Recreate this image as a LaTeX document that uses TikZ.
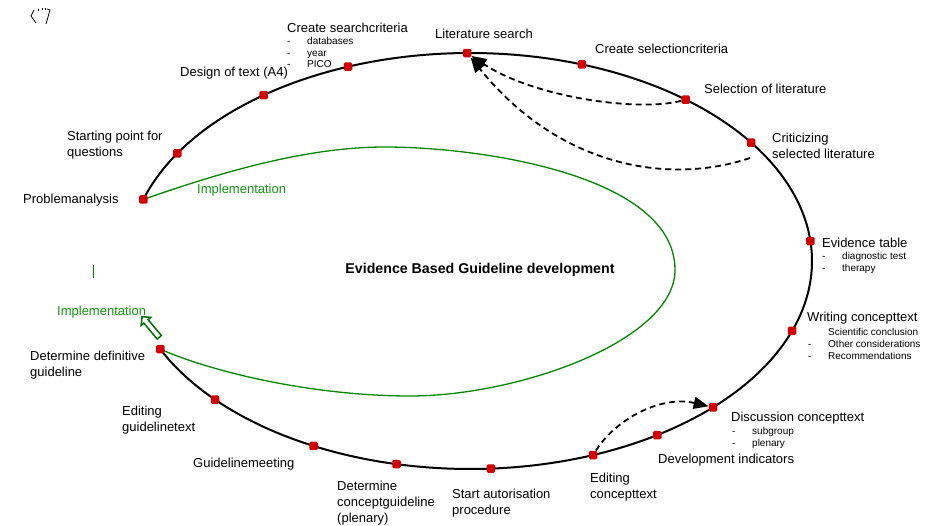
\documentclass[tikz,border=0pt]{standalone}
\usepackage{fontspec}
\setmainfont{Liberation Sans}
\usetikzlibrary{arrows.meta,shapes.arrows}
\definecolor{dotred}{RGB}{210,0,0}
\definecolor{lgreen}{RGB}{0,135,0}
\definecolor{tgreen}{RGB}{20,150,20}
\definecolor{dgreen}{RGB}{0,110,0}
\tikzset{
 dot/.style={fill=dotred, draw=none, rectangle, rounded corners=1.5pt, minimum size=8.5pt, inner sep=0pt},
 lbl/.style={anchor=west, inner sep=0pt, align=left, font=\fontsize{13}{16}\selectfont},
 sublbl/.style={anchor=west, inner sep=0pt, align=left, font=\fontsize{10}{11.7}\selectfont},
 glbl/.style={anchor=west, inner sep=0pt, text=tgreen, font=\fontsize{13}{16}\selectfont},
 loopline/.style={line width=2pt},
 greenline/.style={draw=lgreen, line width=1.3pt},
 dasharrow/.style={line width=1.8pt, dash pattern=on 6pt off 4pt, -{Triangle[length=15pt,width=12pt]}},
}
\newcommand{\dsh}{\makebox[20pt][l]{-}}
\newcommand{\nodsh}{\makebox[20pt][l]{}}
\newcommand{\loopcoord}[2]{\coordinate (#1) at ({470+342*cos(#2)},{261+208*sin(#2)});}
\begin{document}
\begin{tikzpicture}[x=1pt,y=-1pt]
\useasboundingbox (0,0) rectangle (944,526);
% positions on the loop
\loopcoord{cpa}{197.2}
\loopcoord{csp}{211.2}
\loopcoord{cdt}{232.9}
\loopcoord{csc}{249.1}
\loopcoord{clit}{269.5}
\loopcoord{cselc}{289.1}
\loopcoord{csel}{309.1}
\loopcoord{ccrit}{325.3}
\loopcoord{cev}{354.5}
\loopcoord{cwc}{19.6}
\loopcoord{cdisc}{44.7}
\loopcoord{cdev}{56.8}
\loopcoord{cedc}{68.9}
\loopcoord{cstart}{86.5}
\loopcoord{cdet}{102.4}
\loopcoord{cgm}{117.2}
\loopcoord{cegt}{138.2}
\loopcoord{cddg}{154.9}
% black loop (open between Problemanalysis and Determine definitive guideline)
\draw[loopline] plot[domain=197.2:514.9, samples=240, smooth] ({470+342*cos(\x)},{261+208*sin(\x)});
% green loop
\draw[greenline] (cpa) .. controls (227,170) and (310,147) .. (385,147)
  .. controls (480,147) and (675,175) .. (675,270)
  .. controls (675,340) and (520,396) .. (410,396)
  .. controls (320,396) and (220,375) .. (cddg);
% dots
\node[dot] (pa) at (cpa) {};
\node[dot] (sp) at (csp) {};
\node[dot] (dt) at (cdt) {};
\node[dot] (sc) at (csc) {};
\node[dot] (lit) at (clit) {};
\node[dot] (selc) at (cselc) {};
\node[dot] (sel) at (csel) {};
\node[dot] (crit) at (ccrit) {};
\node[dot] (ev) at (cev) {};
\node[dot] (wc) at (cwc) {};
\node[dot] (disc) at (cdisc) {};
\node[dot] (dev) at (cdev) {};
\node[dot] (edc) at (cedc) {};
\node[dot] (start) at (cstart) {};
\node[dot] (det) at (cdet) {};
\node[dot] (gm) at (cgm) {};
\node[dot] (egt) at (cegt) {};
\node[dot] (ddg) at (cddg) {};
% dashed arrows
\coordinate (critout) at (750,158);
\draw[dasharrow] (sel) .. controls (640,112) and (535,98) .. (lit);
\draw[dasharrow] (critout) .. controls (670,185) and (560,168) .. (lit);
\draw[dasharrow] (edc) .. controls (615,420) and (660,395) .. (disc);
% hollow green arrow
\node[single arrow, draw=dgreen, fill=white, line width=1.5pt, minimum height=27pt, inner sep=2pt, single arrow head extend=3.5pt, rotate=130] (harrow) at (151.5,328) {};
% green mark
\draw[lgreen, line width=1pt] (93,265) -- (93,278);
% top-left glyph
\draw[line width=0.8pt] (34,10) -- (31,16) -- (36,23);
\draw[line width=0.8pt] (38,11) -- (38,9) (42,10) -- (42,8) (45,10) -- (45,8);
\draw[line width=0.8pt] (47,9) -- (50,10) -- (46,24);
% labels
\node[lbl] (tpa) at (23,200) {Problemanalysis};
\node[lbl] (tsp) at (67,145) {Starting point for\\questions};
\node[lbl] (tdt) at (180,73) {Design of text (A4)};
\node[lbl] (tsc) at (287,28) {Create searchcriteria};
\node[sublbl] (tsc2) at (287,52.5) {\dsh databases\\\dsh year\\\dsh PICO};
\node[lbl] (tlit) at (435,34) {Literature search};
\node[lbl] (tselc) at (595,49) {Create selectioncriteria};
\node[lbl] (tsel) at (704,89) {Selection of literature};
\node[lbl] (tcrit) at (772,145.5) {Criticizing\\selected literature};
\node[lbl] (tev) at (822,243) {Evidence table};
\node[sublbl] (tev2) at (822,263) {\dsh diagnostic test\\\dsh therapy};
\node[lbl] (twc) at (807,318) {Writing concepttext};
\node[sublbl] (twc2) at (808,344) {\nodsh Scientific conclusion\\\dsh Other considerations\\\dsh Recommendations};
\node[lbl] (tdisc) at (731,418) {Discussion concepttext};
\node[sublbl] (tdisc2) at (732,438) {\dsh subgroup\\\dsh plenary};
\node[lbl] (tdev) at (658,460) {Development indicators};
\node[lbl] (tedc) at (590,487) {Editing\\concepttext};
\node[lbl] (tstart) at (452,503.5) {Start autorisation\\procedure};
\node[lbl] (tdet) at (337,503) {Determine\\conceptguideline\\(plenary)};
\node[lbl] (tgm) at (193,464) {Guidelinemeeting};
\node[lbl] (tegt) at (122,420.5) {Editing\\guidelinetext};
\node[lbl] (tddg) at (30,365.5) {Determine definitive\\guideline};
\node[glbl] (impl1) at (197,190) {Implementation};
\node[glbl] (impl2) at (57,312) {Implementation};
\node[anchor=center, inner sep=0pt, font=\fontsize{14.2}{17}\selectfont\bfseries] (title) at (480,270) {Evidence Based Guideline development};
\end{tikzpicture}
\end{document}
